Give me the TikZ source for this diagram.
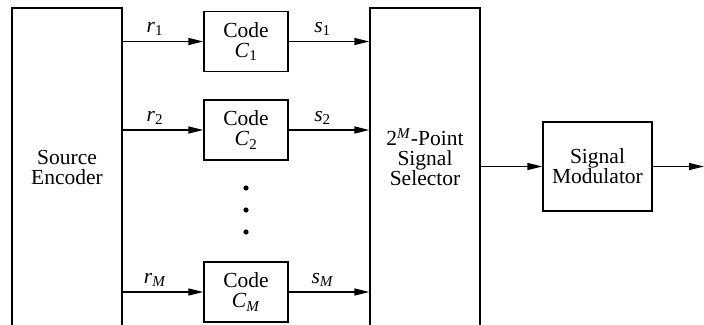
\documentclass[tikz,border=0pt]{standalone}
\usepackage{fontspec}
\setmainfont{Liberation Serif}
\usetikzlibrary{arrows.meta}

\newcommand{\symb}[2]{\textit{#1}\textsubscript{#2}}

\begin{document}
\begin{tikzpicture}[
  x=1pt, y=-1pt,
  font=\fontsize{21.5}{20}\selectfont,
  box/.style={rectangle, draw, line width=1.3pt, align=center, inner sep=0pt},
  tall/.style={box, minimum width=110pt, minimum height=318pt},
  codebox/.style={box, minimum width=84pt, minimum height=60pt},
  arrow/.style={-{Triangle[length=15pt, width=7pt]}, line width=1.3pt},
  lbl/.style={above=5pt, inner sep=0pt}
]
\useasboundingbox (0,0) rectangle (704,324);
\clip (0,0) rectangle (704,324);

% Encoder and selector (open at the bottom edge)
\node[tall] (enc) at (67,167) {Source\\Encoder};
\node[tall, label={[yshift=10pt, align=center]center:2\textsuperscript{\textit{M}}-Point\\Signal\\Selector}] (sel) at (425,167) {};

% Code blocks
\node[codebox] (c1) at (246,41.5) {Code\\\symb{C}{1}};
\node[codebox] (c2) at (246,130) {Code\\\symb{C}{2}};
\node[codebox] (cm) at (246,292) {Code\\\symb{C}{\textit{M}}};

% Vertical dots
\foreach \y in {188,210,232}
  \fill (246,\y) circle (2.6pt);

% Modulator
\node[box, minimum width=109pt, minimum height=89pt] (mod) at (597.5,166.5) {Signal\\Modulator};
\coordinate (out) at (704,166.5);

% Arrows
\draw[arrow] (enc.east |- c1) -- node[lbl, pos=0.4] {\symb{r}{1}} (c1);
\draw[arrow] (enc.east |- c2) -- node[lbl, pos=0.4] {\symb{r}{2}} (c2);
\draw[arrow] (enc.east |- cm) -- node[lbl, pos=0.4] {\symb{r}{\textit{M}}} (cm);
\draw[arrow] (c1) -- node[lbl, pos=0.42] {\symb{s}{1}} (sel.west |- c1);
\draw[arrow] (c2) -- node[lbl, pos=0.42] {\symb{s}{2}} (sel.west |- c2);
\draw[arrow] (cm) -- node[lbl, pos=0.42] {\symb{s}{\textit{M}}} (sel.west |- cm);
\draw[arrow] (sel.east |- mod) -- (mod);
\draw[arrow] (mod) -- (out);

\end{tikzpicture}
\end{document}
